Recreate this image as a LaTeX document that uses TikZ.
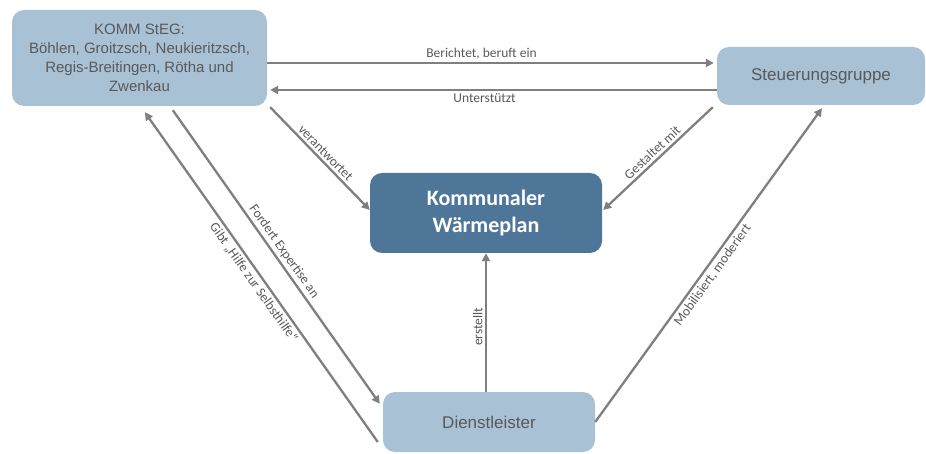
\documentclass[tikz,border=0pt]{standalone}
\usepackage{fontspec}
\setmainfont{Liberation Sans}
\newfontfamily\labelfont{Carlito}
\usetikzlibrary{arrows.meta,calc}
\definecolor{lightbox}{HTML}{A9C1D5}
\definecolor{darkbox}{HTML}{4E7698}
\definecolor{boxtext}{HTML}{595959}
\definecolor{arrowgray}{HTML}{7F7F7F}
\tikzset{
  lbox/.style={draw=none, fill=lightbox, rounded corners=12pt, text=boxtext, align=center, inner sep=0pt},
  dbox/.style={draw=none, fill=darkbox, rounded corners=12pt, text=white, align=center, inner sep=0pt,
    font=\labelfont\bfseries\fontsize{22}{27}\selectfont},
  conn/.style={draw=arrowgray, line width=2.3pt, -{Triangle[length=8pt,width=8pt]}},
  lbl/.style={font=\labelfont\fontsize{13.5}{16}\selectfont, text=boxtext, inner sep=2.5pt}
}
\begin{document}
\begin{tikzpicture}[x=1pt,y=1pt]
\useasboundingbox (0,0) rectangle (926,453);
\node[lbox, minimum width=255pt, minimum height=96pt, font=\fontsize{15}{19}\selectfont] (komm) at (139.5,395)
  {KOMM StEG:\\Böhlen, Groitzsch, Neukieritzsch,\\Regis-Breitingen, Rötha und\\Zwenkau};
\node[lbox, minimum width=208pt, minimum height=58pt, font=\fontsize{17}{20}\selectfont] (steuer) at (821,377) {Steuerungsgruppe};
\node[dbox, minimum width=232pt, minimum height=80pt] (kwp) at (486,240) {Kommunaler\\Wärmeplan};
\node[lbox, minimum width=212pt, minimum height=60pt, font=\fontsize{17}{20}\selectfont] (dienst) at (489,31) {Dienstleister};

% horizontal arrows
\draw[conn] (komm.east |- 0,390) -- node[lbl, above, pos=0.48] {Berichtet, beruft ein} ($(steuer.west |- 0,390)+(-3,0)$);
\draw[conn] (steuer.west |- 0,363) -- node[lbl, below, pos=0.52] {Unterstützt} ($(komm.east |- 0,363)+(3,0)$);
% diagonal to Wärmeplan
\draw[conn] ($(komm.south east)+(3,-1)$) -- node[lbl, sloped, above, pos=0.5] {verantwortet} ($(kwp.west)+(0,3)$);
\draw[conn] ($(steuer.south west)+(-4,-2)$) -- node[lbl, sloped, above, pos=0.5] {Gestaltet mit} ($(kwp.east)+(1,3)$);
% KOMM <-> Dienstleister
\draw[conn] ($(komm.south west)+(161,-4)$) -- node[lbl, sloped, above, pos=0.5] {Fordert Expertise an} ($(dienst.north west)+(-3,-12)$);
\draw[conn] ($(dienst.west)+(-5,-20)$) -- node[lbl, sloped, below, pos=0.5] {Gibt „Hilfe zur Selbsthilfe“} ($(komm.south west)+(133,-6)$);
% Dienstleister -> Wärmeplan
\draw[conn] (kwp.south |- dienst.north) -- node[lbl, sloped, above, pos=0.47] {erstellt} (kwp.south);
% Dienstleister -> Steuerungsgruppe
\draw[conn] (dienst.east) -- node[lbl, sloped, below, pos=0.485] {Mobilisiert, moderiert} ($(steuer.south)+(1,-3)$);
\end{tikzpicture}
\end{document}
